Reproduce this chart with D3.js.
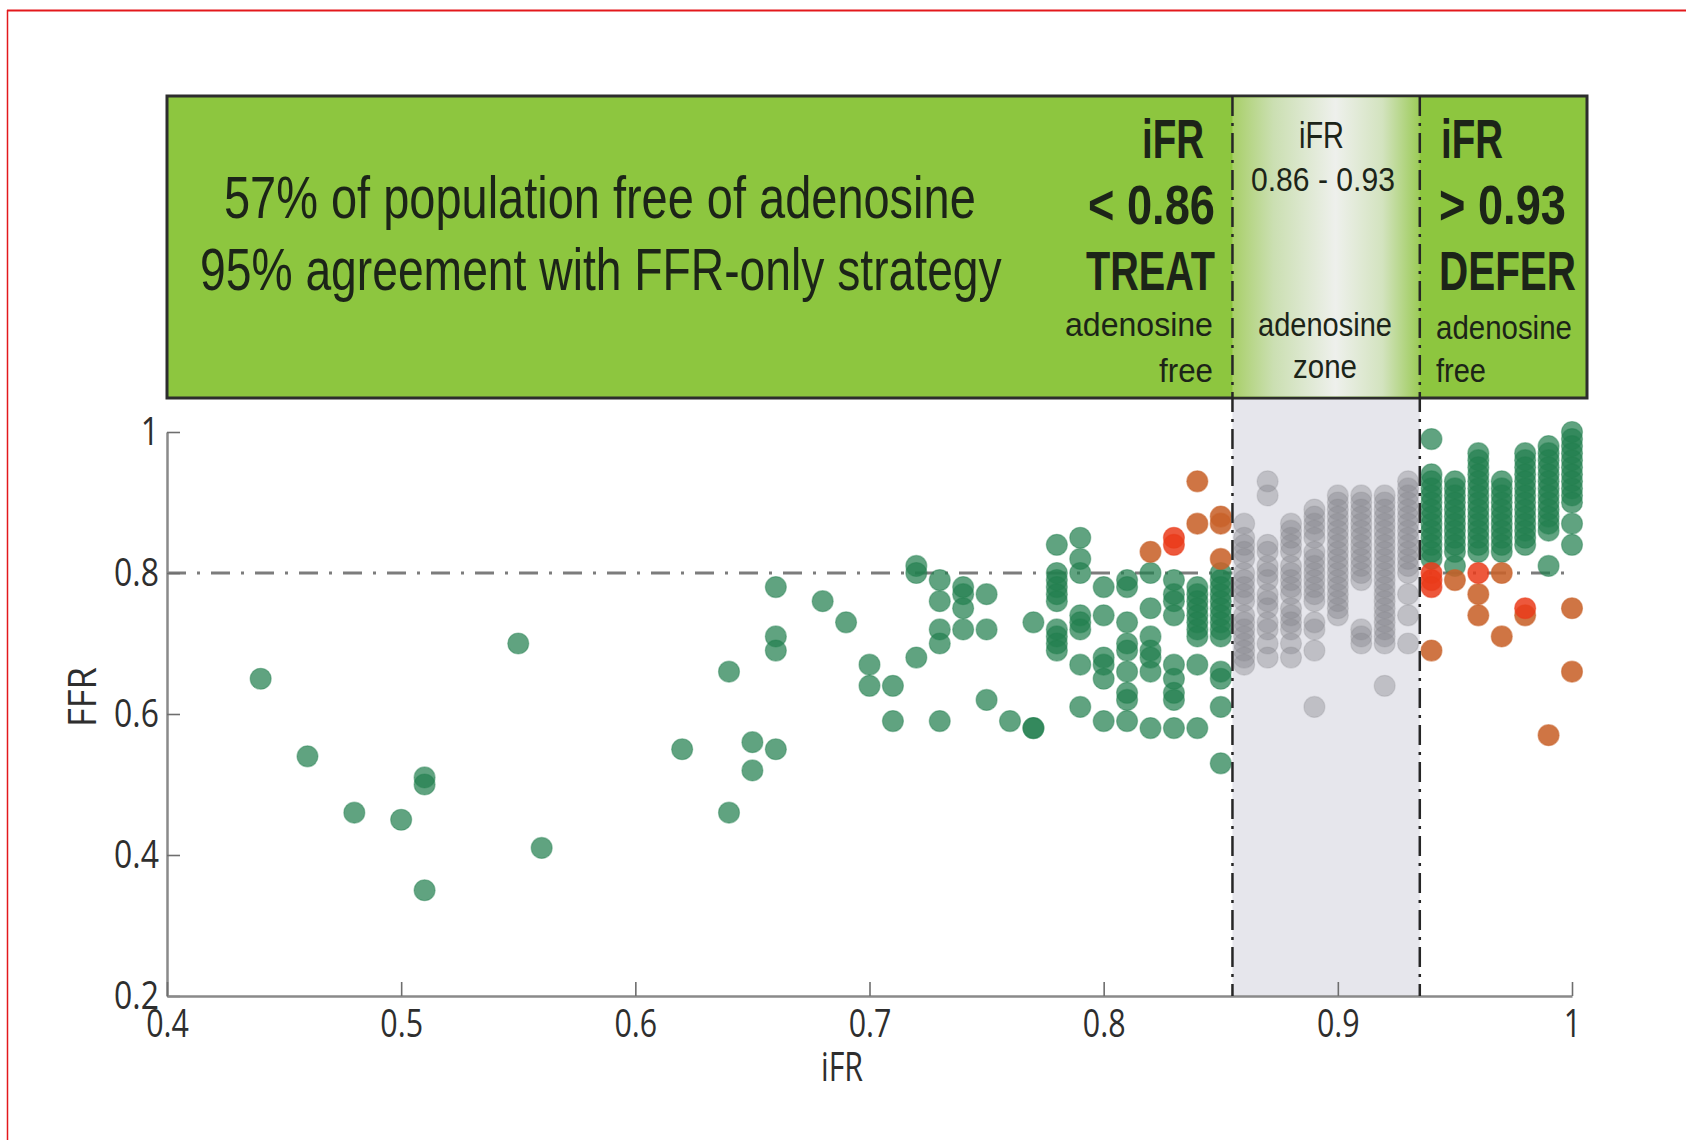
<!DOCTYPE html>
<html>
<head>
<meta charset="utf-8">
<script src="https://cdn.jsdelivr.net/npm/d3@7"></script>
<style>
  html, body { margin: 0; padding: 0; background: #ffffff; }
  svg { display: block; }
  text { font-family: "Open Sans", "Noto Sans", sans-serif; }
  .banner-text { font-family: "Liberation Sans", Arial, sans-serif; }
</style>
</head>
<body>
<svg id="chart" width="1686" height="1140"></svg>
<script>
// ---- data: iFR vs FFR per lesion ----
// concordant lesions, iFR < 0.78 (one point per lesion)
const concordantSparse = [
  [0.44,0.65],[0.46,0.54],[0.48,0.46],[0.50,0.45],[0.51,0.51],[0.51,0.50],[0.51,0.35],
  [0.55,0.70],[0.56,0.41],[0.62,0.55],[0.64,0.66],[0.64,0.46],[0.65,0.56],[0.65,0.52],
  [0.66,0.78],[0.66,0.71],[0.66,0.69],[0.66,0.55],[0.68,0.76],[0.69,0.73],
  [0.70,0.67],[0.70,0.64],[0.71,0.64],[0.71,0.59],[0.72,0.81],[0.72,0.80],[0.72,0.68],
  [0.73,0.79],[0.73,0.76],[0.73,0.72],[0.73,0.70],[0.73,0.59],
  [0.74,0.78],[0.74,0.77],[0.74,0.75],[0.74,0.72],[0.75,0.77],[0.75,0.72],[0.75,0.62],
  [0.76,0.59],[0.77,0.73],[0.77,0.58],[0.77,0.58]
];
// concordant lesions on the treat side, grouped by iFR column: [iFR, FFR values]
const treatColumns = [
  [0.78, [0.84,0.80,0.79,0.78,0.77,0.76,0.72,0.71,0.70,0.69]],
  [0.79, [0.85,0.82,0.80,0.74,0.73,0.72,0.67,0.61]],
  [0.80, [0.78,0.74,0.68,0.67,0.65,0.59]],
  [0.81, [0.79,0.78,0.73,0.70,0.69,0.66,0.63,0.62,0.59]],
  [0.82, [0.80,0.75,0.71,0.69,0.68,0.66,0.58]],
  [0.83, [0.79,0.77,0.76,0.74,0.67,0.65,0.63,0.62,0.58]],
  [0.84, [0.78,0.77,0.76,0.75,0.74,0.73,0.72,0.71,0.67,0.58]],
  [0.85, [0.80,0.79,0.78,0.77,0.76,0.75,0.74,0.73,0.72,0.71,0.66,0.65,0.61,0.53]]
];
// lesions inside the adenosine zone
const zoneColumns = [
  [0.86, [0.87,0.85,0.84,0.83,0.82,0.80,0.79,0.78,0.77,0.76,0.74,0.73,0.72,0.71,0.70,0.69,0.68,0.67]],
  [0.87, [0.93,0.91,0.84,0.83,0.81,0.80,0.79,0.77,0.76,0.75,0.73,0.72,0.70,0.68]],
  [0.88, [0.87,0.86,0.85,0.84,0.83,0.81,0.80,0.79,0.78,0.77,0.75,0.74,0.73,0.72,0.70,0.68]],
  [0.89, [0.89,0.88,0.87,0.86,0.85,0.83,0.82,0.81,0.80,0.79,0.78,0.77,0.76,0.73,0.72,0.69,0.61]],
  [0.90, [0.91,0.90,0.89,0.88,0.87,0.86,0.85,0.84,0.83,0.82,0.81,0.80,0.79,0.78,0.77,0.76,0.75,0.74]],
  [0.91, [0.91,0.90,0.89,0.88,0.87,0.86,0.85,0.84,0.83,0.82,0.81,0.80,0.79,0.72,0.71,0.70]],
  [0.92, [0.91,0.90,0.89,0.88,0.87,0.86,0.85,0.84,0.83,0.82,0.81,0.80,0.79,0.78,0.77,0.76,0.75,0.74,0.73,0.72,0.71,0.70,0.64]],
  [0.93, [0.93,0.92,0.91,0.90,0.89,0.88,0.87,0.86,0.85,0.84,0.83,0.82,0.81,0.80,0.77,0.74,0.70]]
];
// concordant lesions on the defer side
const deferColumns = [
  [0.94, [0.99,0.94,0.93,0.92,0.91,0.90,0.89,0.88,0.87,0.86,0.85,0.84,0.83,0.82]],
  [0.95, [0.93,0.92,0.91,0.90,0.89,0.88,0.87,0.86,0.85,0.84,0.83,0.81]],
  [0.96, [0.97,0.96,0.95,0.94,0.93,0.92,0.91,0.90,0.89,0.88,0.87,0.86,0.85,0.84,0.83]],
  [0.97, [0.93,0.92,0.91,0.90,0.89,0.88,0.87,0.86,0.85,0.84,0.83]],
  [0.98, [0.97,0.96,0.95,0.94,0.93,0.92,0.91,0.90,0.89,0.88,0.87,0.86,0.85,0.84]],
  [0.99, [0.98,0.97,0.96,0.95,0.94,0.93,0.92,0.91,0.90,0.89,0.88,0.87,0.86,0.81]],
  [1.00, [1.00,0.99,0.98,0.97,0.96,0.95,0.94,0.93,0.92,0.91,0.90,0.87,0.84]]
];
// discordant lesions (iFR and FFR disagree)
const discordantOrange = [
  [0.82,0.83],[0.84,0.93],[0.84,0.87],[0.85,0.88],[0.85,0.87],[0.85,0.82],
  [0.94,0.69],[0.95,0.79],[0.96,0.77],[0.96,0.74],[0.97,0.80],[0.97,0.71],
  [0.98,0.74],[0.99,0.57],[1.00,0.75],[1.00,0.66]
];
const discordantRed = [
  [0.83,0.85],[0.83,0.84],[0.94,0.80],[0.94,0.79],[0.94,0.78],[0.96,0.80],[0.98,0.75]
];
const zoneBounds = [0.855, 0.935];
const ffrCutoff = 0.8;
const xTicks = [0.4, 0.5, 0.6, 0.7, 0.8, 0.9, 1];
const yTicks = [0.2, 0.4, 0.6, 0.8, 1];

// ---- scales ----
const x = d3.scaleLinear().domain([0.4, 1]).range([167, 1572]);
const y = d3.scaleLinear().domain([0.2, 1]).range([996, 432]);
const svg = d3.select("#chart");

const flatten = cols => cols.flatMap(([ifr, ffrs]) => ffrs.map(f => [ifr, f]));

// page frame
svg.append("line").attr("x1", 7).attr("x2", 1686).attr("y1", 10.5).attr("y2", 10.5)
  .attr("stroke", "#e3191c").attr("stroke-width", 2);
svg.append("line").attr("x1", 7.5).attr("x2", 7.5).attr("y1", 10).attr("y2", 1140)
  .attr("stroke", "#e3191c").attr("stroke-width", 1.5);

// FFR 0.8 cut-off
svg.append("line")
  .attr("x1", x(0.4)).attr("x2", x(1)).attr("y1", y(ffrCutoff)).attr("y2", y(ffrCutoff))
  .attr("stroke", "#7c7c7c").attr("stroke-width", 3).attr("stroke-dasharray", "19,11,3,11");

// adenosine zone background
const bannerTop = 96, bannerBottom = 398;
svg.append("rect")
  .attr("x", x(zoneBounds[0])).attr("width", x(zoneBounds[1]) - x(zoneBounds[0]))
  .attr("y", bannerBottom).attr("height", y(0.2) - bannerBottom)
  .attr("fill", "#e6e6ec");

// points
const dotLayer = svg.append("g");
function drawDots(data, color, alpha) {
  dotLayer.append("g").selectAll("circle").data(data).join("circle")
    .attr("cx", d => x(d[0])).attr("cy", d => y(d[1])).attr("r", 10.5)
    .attr("fill", color).attr("fill-opacity", alpha)
    .attr("stroke", color).attr("stroke-opacity", alpha * 0.6).attr("stroke-width", 1.2);
}
drawDots(concordantSparse.concat(flatten(treatColumns), flatten(deferColumns)), "#22804f", 0.72);
drawDots(flatten(zoneColumns), "#85858c", 0.4);
drawDots(discordantOrange, "#c8622a", 0.88);
drawDots(discordantRed, "#ea3b1a", 0.85);

// axes
function condense(sel, f) {
  sel.each(function () {
    const w = this.getComputedTextLength();
    d3.select(this).attr("textLength", w * f).attr("lengthAdjust", "spacingAndGlyphs");
  });
}
const yAxis = svg.append("g").attr("transform", `translate(${x(0.4)},0)`)
  .call(d3.axisLeft(y).tickValues(yTicks).tickFormat(d3.format("~g"))
    .tickSize(-13).tickSizeOuter(0).tickPadding(8));
const xAxis = svg.append("g").attr("transform", `translate(0,${y(0.2)})`)
  .call(d3.axisBottom(x).tickValues(xTicks).tickFormat(d3.format("~g"))
    .tickSize(-14).tickSizeOuter(0).tickPadding(14));
[yAxis, xAxis].forEach(a => {
  a.select(".domain").attr("stroke", "#8a8a8a").attr("stroke-width", 2.5);
  a.selectAll(".tick line").attr("stroke", "#6e6e6e").attr("stroke-width", 1.6);
  a.selectAll(".tick text").attr("fill", "#2e2e2e").attr("font-size", 38)
    .attr("font-family", "'Open Sans', sans-serif");
});
condense(yAxis.selectAll(".tick text"), 0.84);
condense(xAxis.selectAll(".tick text"), 0.8);

svg.append("text").text("iFR").attr("x", 842).attr("y", 1081)
  .attr("text-anchor", "middle").attr("font-size", 40).attr("fill", "#2e2e2e")
  .attr("textLength", 42).attr("lengthAdjust", "spacingAndGlyphs");
svg.append("text").text("FFR")
  .attr("transform", "translate(96,697) rotate(-90)")
  .attr("text-anchor", "middle").attr("font-size", 39).attr("fill", "#2e2e2e")
  .attr("textLength", 60).attr("lengthAdjust", "spacingAndGlyphs");

// banner
svg.append("rect").attr("x", x(0.4)).attr("y", bannerTop)
  .attr("width", 1587 - x(0.4)).attr("height", bannerBottom - bannerTop)
  .attr("fill", "#8dc63f").attr("stroke", "#2d2d2d").attr("stroke-width", 3);

const defs = svg.append("defs");
const grad = defs.append("linearGradient").attr("id", "zoneGrad")
  .attr("x1", 0).attr("x2", 1).attr("y1", 0).attr("y2", 0);
[[0, "#a8cf68"], [0.22, "#cbdfb2"], [0.55, "#eef0ec"], [0.8, "#d3e3bf"], [1, "#9ccb58"]]
  .forEach(([o, c]) => grad.append("stop").attr("offset", o).attr("stop-color", c));
svg.append("rect")
  .attr("x", x(zoneBounds[0])).attr("width", x(zoneBounds[1]) - x(zoneBounds[0]))
  .attr("y", bannerTop + 1.5).attr("height", bannerBottom - bannerTop - 3)
  .attr("fill", "url(#zoneGrad)");

// zone boundaries
zoneBounds.forEach(b => {
  svg.append("line").attr("x1", x(b)).attr("x2", x(b))
    .attr("y1", bannerTop).attr("y2", y(0.2))
    .attr("stroke", "#262626").attr("stroke-width", 2.5)
    .attr("stroke-dasharray", "20,7,3,7");
});

// banner text: condensed lettering, squeezed horizontally to a set width
const ink = "#1c2418";
function label(txt, x0, yb, size, len, weight) {
  const t = svg.append("text").attr("class", "banner-text").text(txt)
    .attr("x", 0).attr("y", 0)
    .attr("font-size", size).attr("font-weight", weight || 400).attr("fill", ink);
  const w = t.node().getComputedTextLength();
  t.attr("transform", `translate(${x0},${yb}) scale(${len / w},1)`);
}
label("57% of population free of adenosine", 224, 218, 60, 752);
label("95% agreement with FFR-only strategy", 200, 290, 60, 802);

label("iFR", 1142, 158, 55, 62, 700);
label("< 0.86", 1088, 224, 55, 127, 700);
label("TREAT", 1086, 290, 55, 129, 700);
label("adenosine", 1065, 336, 34, 148);
label("free", 1159, 382, 34, 54);

label("iFR", 1299, 148, 37, 45);
label("0.86 - 0.93", 1251, 191, 34, 144);
label("adenosine", 1258, 336, 34, 134);
label("zone", 1293, 378, 34, 64);

label("iFR", 1441, 158, 55, 62, 700);
label("> 0.93", 1439, 224, 55, 127, 700);
label("DEFER", 1439, 290, 55, 137, 700);
label("adenosine", 1436, 339, 34, 136);
label("free", 1436, 382, 34, 50);
</script>
</body>
</html>
